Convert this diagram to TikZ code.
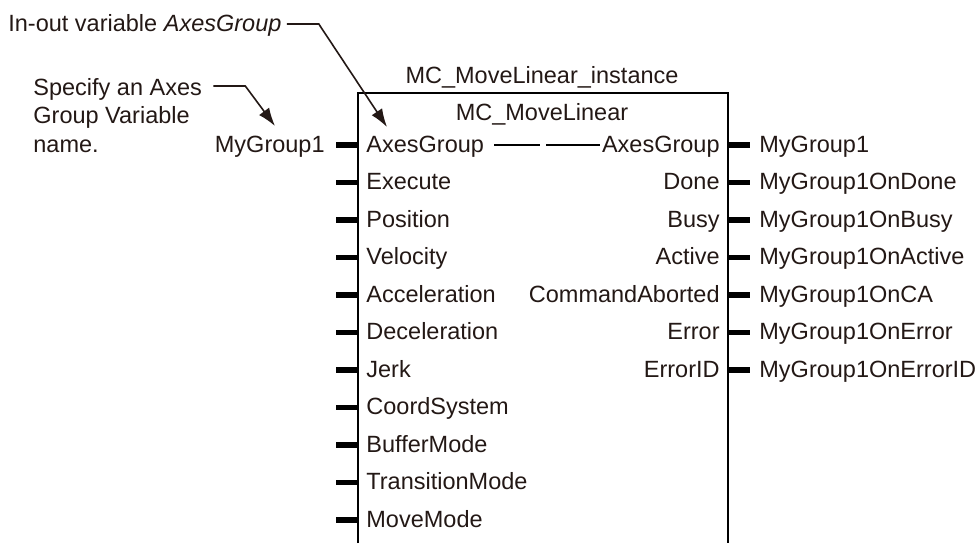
\documentclass[tikz,border=0pt]{standalone}
\usepackage{fontspec}
\setmainfont{Liberation Sans}
\usetikzlibrary{arrows.meta,positioning,calc}
\definecolor{fbink}{HTML}{231815}
\tikzset{
  lbl/.style={inner sep=0pt,text height=0.93em,text depth=0.214em,text=fbink},
  note/.style={inner sep=0pt,align=left,text=fbink},
  fbframe/.style={line width=1.2pt,draw=black},
  pin/.style={line width=2.6pt,draw=black},
  link/.style={line width=0.8pt,draw=black},
  callout/.style={-{Latex[length=3.2mm,width=2.2mm]},line width=0.8pt,draw=fbink}
}

\begin{document}
\begin{tikzpicture}[x=0.5pt,y=-0.5pt,font=\fontsize{11.75}{14.25}\selectfont]
  \useasboundingbox (0,0) rectangle (980,543);
  % function block, open at the bottom
  \coordinate (fbsw) at (358,543);
  \coordinate (fbnw) at (358,93);
  \coordinate (fbne) at (728,93);
  \coordinate (fbse) at (728,543);
  \draw[fbframe] (fbsw) -- (fbnw) -- (fbne) -- (fbse);
  \node[lbl,anchor=base] (inst) at (542,83) {MC\_MoveLinear\_instance};
  \node[lbl,anchor=base] (fbname) at (542,120) {MC\_MoveLinear};

  % inputs
  \foreach \name [count=\i from 0] in {AxesGroup,Execute,Position,Velocity,Acceleration,Deceleration,Jerk,CoordSystem,BufferMode,TransitionMode,MoveMode} {
    \coordinate (inpin\i) at (358,{145+37.5*\i});
    \coordinate (inend\i) at (336,{145+37.5*\i});
    \draw[pin] (inend\i) -- (inpin\i);
    \node[lbl,anchor=west] (in\i) at ([xshift=4pt]inpin\i) {\name};
  }
  \node[lbl,anchor=east] (invar) at ([xshift=-5.5pt]inend0) {MyGroup1};

  % outputs
  \foreach \name/\var [count=\i from 0] in {AxesGroup/MyGroup1,Done/MyGroup1OnDone,Busy/MyGroup1OnBusy,Active/MyGroup1OnActive,CommandAborted/MyGroup1OnCA,Error/MyGroup1OnError,ErrorID/MyGroup1OnErrorID} {
    \coordinate (outpin\i) at (728,{145+37.5*\i});
    \coordinate (outend\i) at (750,{145+37.5*\i});
    \draw[pin] (outpin\i) -- (outend\i);
    \node[lbl,anchor=east] (out\i) at ([xshift=-4pt]outpin\i) {\name};
    \node[lbl,anchor=west] (outvar\i) at ([xshift=4.5pt]outend\i) {\var};
  }

  % in-out pass-through
  \coordinate (passmid) at ($(in0.east)!0.5!(out0.west)$);
  \draw[link] ([xshift=5pt]in0.east) -- ([xshift=-1.5pt]passmid);
  \draw[link] ([xshift=1.5pt]passmid) -- ([xshift=-1pt]out0.west);

  % callouts
  \node[lbl,anchor=west] (inoutnote) at (8,24) {In-out variable \textit{AxesGroup}};
  \coordinate (inouttip) at (387,127);
  \draw[callout] ([xshift=2.5pt]inoutnote.east) -- ++(32,0) -- (inouttip);

  \node[note,anchor=base west] (specnote) at (33,152) {Specify an Axes\\Group Variable\\name.};
  \coordinate (specfrom) at ([xshift=5.5pt]specnote.east |- 0,86);
  \coordinate (spectip) at (275,126);
  \draw[callout] (specfrom) -- ++(32,0) -- (spectip);
\end{tikzpicture}
\end{document}
